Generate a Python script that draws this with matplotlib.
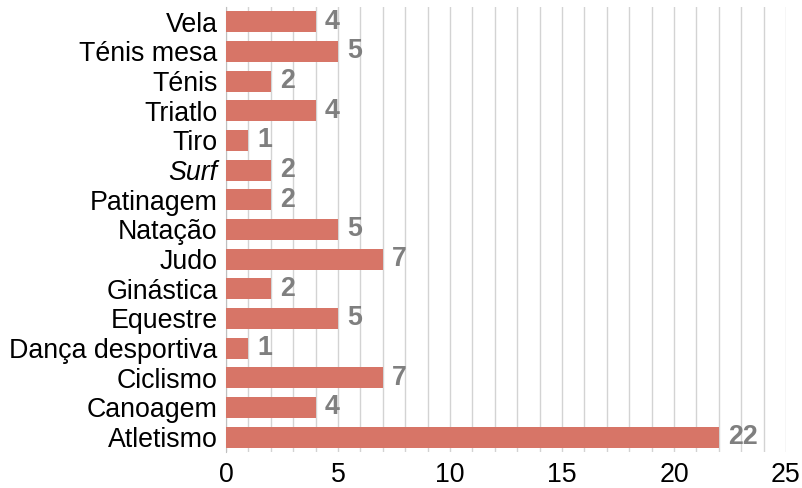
import matplotlib.pyplot as plt
from matplotlib.ticker import MultipleLocator

plt.rcParams['font.family'] = ['Liberation Sans', 'DejaVu Sans']

# Dados (de baixo para cima)
modalidades = ["Atletismo", "Canoagem", "Ciclismo", "Dança desportiva", "Equestre",
               "Ginástica", "Judo", "Natação", "Patinagem", "Surf", "Tiro",
               "Triatlo", "Ténis", "Ténis mesa", "Vela"]
valores = [22, 4, 7, 1, 5, 2, 7, 5, 2, 2, 1, 4, 2, 5, 4]

fs = 19.3

fig = plt.figure(figsize=(8.03, 4.88), dpi=100)
ax = fig.add_axes([0.2814, 0.0738, 0.6974, 0.9119])

y = range(len(modalidades))
ax.barh(y, valores, height=0.71, color='#D77567', zorder=3)

for i, v in enumerate(valores):
    ax.text(v + 0.4, i, str(v), va='center', ha='left', fontsize=fs,
            fontweight='bold', color='#7F7F7F')

ax.set_xlim(0, 25)
ax.set_ylim(-0.5, len(modalidades) - 0.5)
ax.set_yticks(list(y))
ax.set_yticklabels(modalidades, fontsize=fs)
for lbl in ax.get_yticklabels():
    if lbl.get_text() == "Surf":
        lbl.set_style('italic')

ax.xaxis.set_major_locator(MultipleLocator(5))
ax.xaxis.set_minor_locator(MultipleLocator(1))
ax.tick_params(axis='x', labelsize=fs, length=0, pad=7, which='both')
ax.tick_params(axis='y', length=0, pad=6)
ax.grid(axis='x', which='both', color='#D3D3D3', linewidth=1, zorder=0)

for s in ['top', 'right', 'bottom']:
    ax.spines[s].set_visible(False)
ax.spines['left'].set_color('#BFBFBF')

fig.savefig('out.png', dpi=100)
